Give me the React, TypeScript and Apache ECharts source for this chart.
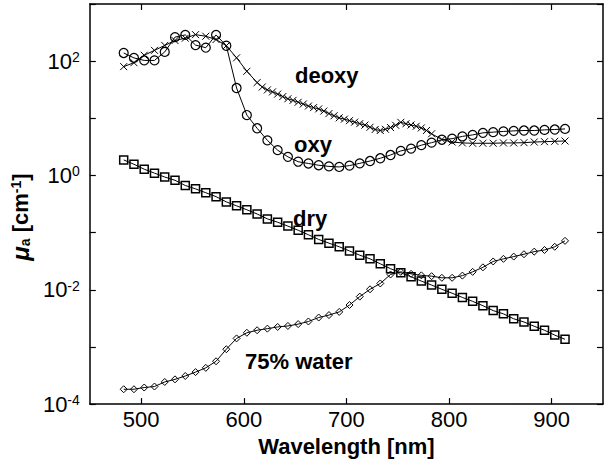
import React, { useEffect, useRef } from 'react';
import * as echarts from 'echarts';

const FONT = '"Liberation Sans", Arial, Helvetica, sans-serif';

// Wavelengths (nm) shared by oxy, dry and water curves
const wavelengths = [
  483, 493, 503, 513, 523, 533, 543, 553, 563, 573, 583, 593, 603, 613, 623,
  633, 643, 653, 663, 673, 683, 693, 703, 713, 723, 733, 743, 753, 763, 773,
  783, 793, 803, 813, 823, 833, 843, 853, 863, 873, 883, 893, 903, 913,
];

// Oxy-haemoglobin absorption (cm^-1)
const oxyValues = [
  139, 114, 103, 103, 145, 263, 288, 191, 172, 288, 186, 33.9, 11.4, 6.7, 4.12,
  2.77, 2.12, 1.74, 1.62, 1.51, 1.44, 1.41, 1.49, 1.63, 1.79, 2.0, 2.28, 2.69,
  2.95, 3.39, 3.75, 4.22, 4.4, 4.83, 5.13, 5.57, 5.73, 5.89, 6.03, 6.12, 6.12,
  6.27, 6.37, 6.52,
];

// Deoxy-haemoglobin is sampled more densely between 618 and 783 nm
const deoxyWavelengths = [
  483, 493, 503, 513, 523, 533, 543, 553, 563, 573, 583, 593, 603, 613,
  618, 623, 628, 633, 638, 643, 648, 653, 658, 663, 668, 673, 678, 683, 688,
  693, 698, 703, 708, 713, 718, 723, 728, 733, 738, 743, 748, 753, 758, 763,
  768, 773, 778, 783,
  793, 803, 813, 823, 833, 843, 853, 863, 873, 883, 893, 903, 913,
];
const deoxyValues = [
  80.2, 94.0, 126.8, 154.5, 188.4, 229.6, 252.4, 291.1, 272.9, 238.8, 186.2,
  114.3, 66.5, 42.2,
  35.3, 31.4, 29.0, 26.5, 24.0, 22.0, 20.6, 19.1, 17.8, 16.4, 15.4, 14.6, 13.4,
  12.1, 11.1, 10.2, 9.68, 9.1, 8.57, 8.07, 7.6, 6.98, 6.37, 6.12, 6.44, 6.89,
  7.55, 8.51, 8.02, 7.64, 7.26, 6.79, 6.12, 5.36,
  4.26, 3.85, 3.71, 3.66, 3.66, 3.66, 3.71, 3.71, 3.75, 3.85, 3.9, 3.96, 4.01,
];

// Dry tissue
const dryValues = [
  1.869, 1.57, 1.288, 1.099, 0.939, 0.824, 0.668, 0.583, 0.499, 0.426, 0.345,
  0.294, 0.251, 0.212, 0.174, 0.152, 0.13, 0.11, 0.0917, 0.076, 0.0655, 0.0566,
  0.0478, 0.0403, 0.0348, 0.0285, 0.0234, 0.0198, 0.0169, 0.0142, 0.0121,
  0.0102, 0.00871, 0.00735, 0.00627, 0.00527, 0.00433, 0.00379, 0.00311,
  0.00273, 0.0023, 0.00196, 0.00161, 0.00136,
];

// 75% water
const waterValues = [
  0.000182, 0.000182, 0.000195, 0.000203, 0.000244, 0.000271, 0.00031,
  0.000363, 0.000431, 0.000561, 0.000912, 0.00141, 0.00177, 0.00196, 0.00209,
  0.00224, 0.00233, 0.00251, 0.00279, 0.00327, 0.00361, 0.0041, 0.00542,
  0.00759, 0.0102, 0.0129, 0.0185, 0.0206, 0.019, 0.0179, 0.0173, 0.0162,
  0.0162, 0.0177, 0.0206, 0.0247, 0.0313, 0.0348, 0.0381, 0.0419, 0.0465,
  0.0497, 0.0566, 0.0718,
];

const xTicks = [500, 600, 700, 800, 900];

const seriesLabels = [
  { text: 'deoxy', x: 295, y: 75 },
  { text: 'oxy', x: 294, y: 144 },
  { text: 'dry', x: 293, y: 218 },
  { text: '75% water', x: 245, y: 361 },
];

export default function App() {
  const ref = useRef<HTMLDivElement>(null);

  useEffect(() => {
    if (!ref.current) return;
    const chart = echarts.init(ref.current, null, { renderer: 'svg' });
    const pair = (xs: number[], ys: number[]) => xs.map((x, i) => [x, ys[i]]);

    const yLabel = (v: number) => {
      const e = Math.round(Math.log10(v));
      return e % 2 === 0 ? `{b|10}{s|${e}}` : '';
    };

    const axisLineStyle = { color: '#000', width: 1.5 };
    const tickStyle = { color: '#000', width: 1.2 };

    const lineBase = {
      type: 'line',
      showSymbol: true,
      showAllSymbol: true,
      silent: true,
      emphasis: { disabled: true },
      lineStyle: { color: '#000', width: 1 },
    };

    const option = {
      animation: false,
      textStyle: { fontFamily: FONT, color: '#000' },
      grid: { left: 88, right: 2, top: 4, bottom: 50, containLabel: false },
      xAxis: [
        {
          type: 'value',
          position: 'bottom',
          min: 450,
          max: 950,
          name: 'Wavelength [nm]',
          nameLocation: 'middle',
          nameGap: 22,
          nameTextStyle: { fontFamily: FONT, fontSize: 22, fontWeight: 'bold', color: '#000' },
          axisLine: { show: true, onZero: false, lineStyle: axisLineStyle },
          axisTick: { show: true, inside: true, length: 6, customValues: xTicks, lineStyle: tickStyle },
          axisLabel: { show: true, customValues: xTicks, margin: 4, fontSize: 22, color: '#000', fontFamily: FONT },
          splitLine: { show: false },
        },
        {
          type: 'value',
          position: 'top',
          min: 450,
          max: 950,
          axisLine: { show: true, onZero: false, lineStyle: axisLineStyle },
          axisTick: { show: true, inside: true, length: 6, customValues: xTicks, lineStyle: tickStyle },
          axisLabel: { show: false },
          splitLine: { show: false },
        },
      ],
      yAxis: [
        {
          type: 'log',
          logBase: 10,
          min: 1e-4,
          max: 1e3,
          splitNumber: 7,
          position: 'left',
          name: '{m|μ}{sub|a}{t| [cm}{sup|-1}{t|]}',
          nameLocation: 'middle',
          nameRotate: 90,
          nameGap: 48,
          nameTextStyle: {
            fontFamily: FONT,
            fontSize: 22,
            fontWeight: 'bold',
            color: '#000',
            padding: [0, 26, 0, 0],
            rich: {
              m: { fontFamily: FONT, fontSize: 24, fontWeight: 'bold', fontStyle: 'italic', color: '#000' },
              t: { fontFamily: FONT, fontSize: 22, fontWeight: 'bold', color: '#000' },
              sub: { fontFamily: FONT, fontSize: 14, fontWeight: 'bold', color: '#000', padding: [10, 0, 0, 0] },
              sup: { fontFamily: FONT, fontSize: 14, fontWeight: 'bold', color: '#000', padding: [0, 0, 9, 0] },
            },
          },
          axisLine: { show: true, lineStyle: axisLineStyle },
          axisTick: { show: true, inside: true, length: 6, lineStyle: tickStyle },
          axisLabel: {
            show: true,
            margin: 10,
            formatter: yLabel,
            rich: {
              b: { fontFamily: FONT, fontSize: 22, color: '#000' },
              s: { fontFamily: FONT, fontSize: 14, color: '#000', padding: [0, 0, 8, 0] },
            },
          },
          splitLine: { show: false },
          minorTick: { show: false },
        },
        {
          type: 'log',
          logBase: 10,
          min: 1e-4,
          max: 1e3,
          splitNumber: 7,
          position: 'right',
          axisLine: { show: true, lineStyle: axisLineStyle },
          axisTick: { show: true, inside: true, length: 6, lineStyle: tickStyle },
          axisLabel: { show: false },
          splitLine: { show: false },
        },
      ],
      graphic: seriesLabels.map((l) => ({
        type: 'text',
        x: l.x,
        y: l.y,
        silent: true,
        style: {
          text: l.text,
          font: `bold 22px ${FONT}`,
          fill: '#000',
          align: 'left',
          verticalAlign: 'middle',
          textAlign: 'left',
          textVerticalAlign: 'middle',
        },
      })),
      series: [
        {
          ...lineBase,
          name: 'dry',
          data: pair(wavelengths, dryValues),
          symbol: 'rect',
          symbolSize: 8,
          itemStyle: { color: 'rgba(0,0,0,0)', borderColor: '#000', borderWidth: 1.5 },
        },
        {
          ...lineBase,
          name: '75% water',
          data: pair(wavelengths, waterValues),
          symbol: 'diamond',
          symbolSize: 7,
          itemStyle: { color: 'rgba(0,0,0,0)', borderColor: '#000', borderWidth: 1 },
        },
        {
          ...lineBase,
          name: 'deoxy',
          data: pair(deoxyWavelengths, deoxyValues),
          symbol: 'path://M0 0L10 10M10 0L0 10',
          symbolSize: 7,
          itemStyle: { color: 'rgba(0,0,0,0)', borderColor: '#000', borderWidth: 1 },
        },
        {
          ...lineBase,
          name: 'oxy',
          data: pair(wavelengths, oxyValues),
          symbol: 'circle',
          symbolSize: 9,
          itemStyle: { color: 'rgba(0,0,0,0)', borderColor: '#000', borderWidth: 1.2 },
        },
      ],
    };

    chart.setOption(option as any);
    return () => chart.dispose();
  }, []);

  return (
    <div
      ref={ref}
      style={{ position: 'absolute', left: 0, top: 0, width: 605, height: 462, background: '#fff' }}
    />
  );
}
